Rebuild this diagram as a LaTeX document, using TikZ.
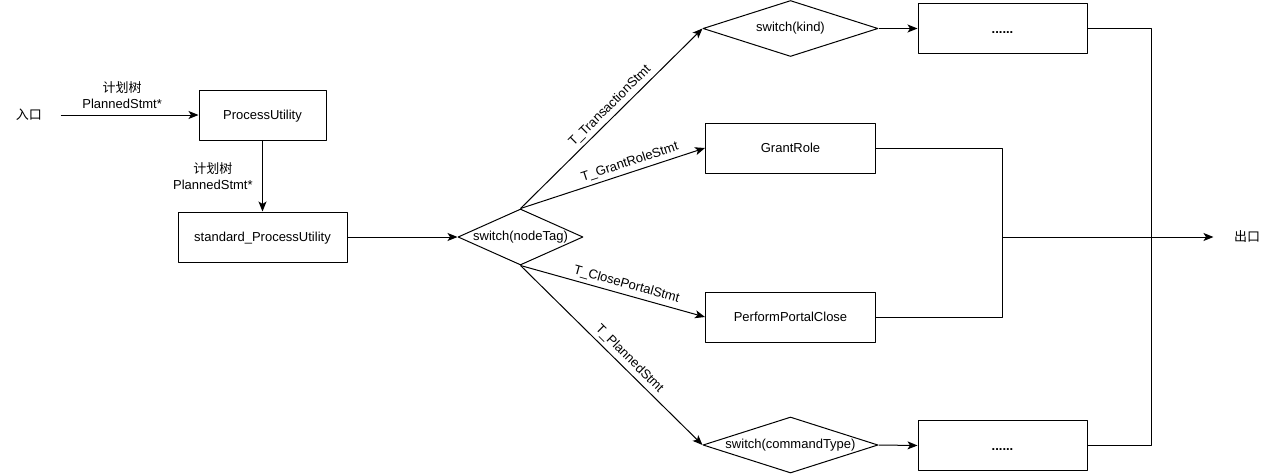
\documentclass[tikz,border=0pt]{standalone}
\usepackage{fontspec}
\setmainfont{Liberation Sans}
\newfontfamily\cjk{Noto Sans CJK SC}
\usetikzlibrary{shapes.geometric,arrows.meta}
\begin{document}
\begin{tikzpicture}[x=1pt,y=-1pt,line join=round,>={Stealth[length=10pt,width=8pt,inset=2.5pt]},line width=1pt]
	\tikzset{every node/.style={font=\fontsize{13}{16}\selectfont},
		box/.style={draw,rectangle,minimum width=170pt,minimum height=50pt,text height=9.5pt,text depth=0pt,inner sep=0pt},
		decide/.style={draw,diamond,minimum width=175pt,minimum height=56pt,inner sep=0pt},
		lab/.style={sloped,above}}
	\useasboundingbox (0,0) rectangle (1280,474);
	% left part
	\node (in) at (29,115) {\cjk 入口};
	\node[box,minimum width=127pt] (pu) at (262.5,115) {ProcessUtility};
	\node[box,minimum width=169pt] (spu) at (262.5,237) {standard\_ProcessUtility};
	\node[decide,minimum width=125pt] (tag) at (520.5,237) {\makebox[0pt]{switch(nodeTag)}};
	% branches
	\node[decide] (kind) at (790.5,28.5) {\makebox[0pt]{switch(kind)}};
	\node[box] (grant) at (790.5,148) {GrantRole};
	\node[box] (close) at (790.5,317) {PerformPortalClose};
	\node[decide] (cmd) at (790.5,445) {\makebox[0pt]{switch(commandType)}};
	\node[box,minimum width=169pt] (more1) at (1002.5,28.5) {\textbf{......}};
	\node[box,minimum width=169pt] (more2) at (1002.5,445.5) {\textbf{......}};
	\node (out) at (1247,237) {\cjk 出口};
	\coordinate (join) at (1002.7,237);
	\coordinate (rail) at (1151,237);
	% connectors
	\draw[->,shorten <=14.7pt] (in) -- (pu) node[pos=.5,above=3pt,align=center] {{\cjk 计划树}\\PlannedStmt*};
	\draw[->] (pu) -- (spu) node[midway,left=6pt,align=center] {{\cjk 计划树}\\PlannedStmt*};
	\draw[->] (spu) -- (tag.west);
	\draw[->] (tag.north) -- (kind.west) node[lab,pos=.53] {T\_TransactionStmt};
	\draw[->] (tag.north) -- (grant.west) node[lab,pos=.61] {T\_GrantRoleStmt};
	\draw[->] (tag.south) -- (close.west) node[lab,pos=.56] {T\_ClosePortalStmt};
	\draw[->] (tag.south) -- (cmd.west) node[lab,pos=.56] {T\_PlannedStmt};
	\draw[->] (kind.east) -- (more1.west);
	\draw[->] (cmd.east) -- (more2.west);
	\draw (grant.east) -| (join) |- (close.east);
	\draw (more1.east) -| (rail) |- (more2.east);
	\draw[->,shorten >=16.7pt] (join) -- (out);
\end{tikzpicture}
\end{document}
